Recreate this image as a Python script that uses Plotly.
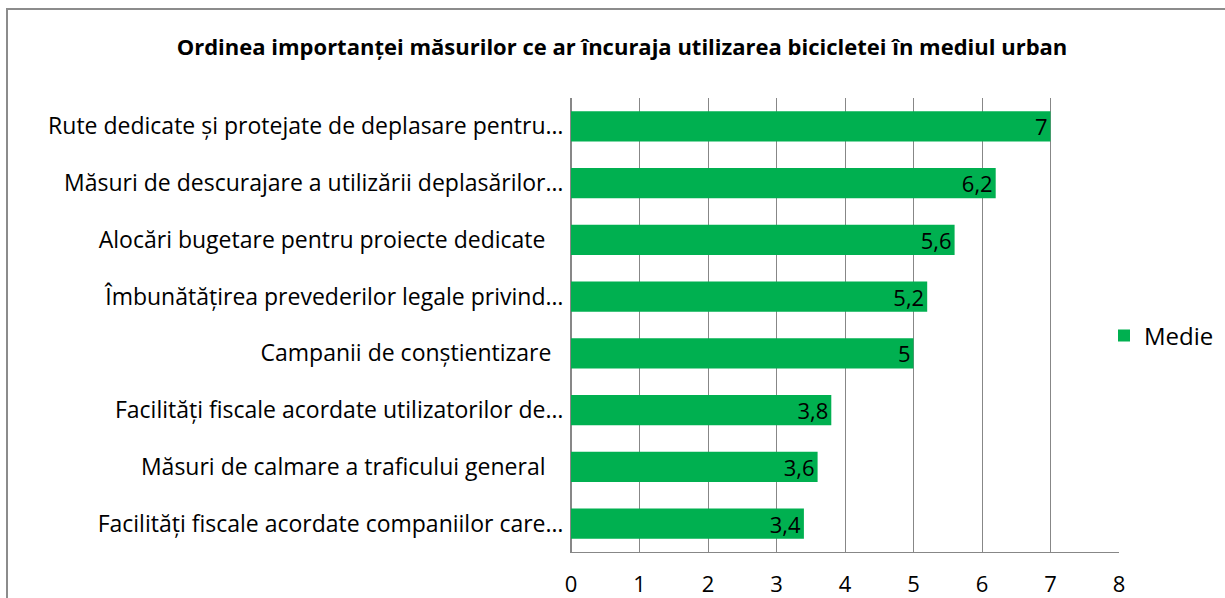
import plotly.graph_objects as go

categories = [
    "Rute dedicate și protejate de deplasare pentru…",
    "Măsuri de descurajare a utilizării deplasărilor…",
    "Alocări bugetare pentru proiecte dedicate\u00a0\u00a0\u00a0",
    "Îmbunătățirea prevederilor legale privind…",
    "Campanii de conștientizare\u00a0\u00a0",
    "Facilități fiscale acordate utilizatorilor de…",
    "Măsuri de calmare a traficului general\u00a0\u00a0\u00a0",
    "Facilități fiscale acordate companiilor care…",
]
values = [7, 6.2, 5.6, 5.2, 5, 3.8, 3.6, 3.4]
series_name = "Medie"
title = "Ordinea importanței măsurilor ce ar încuraja utilizarea bicicletei în mediul urban"
x_ticks = [0, 1, 2, 3, 4, 5, 6, 7, 8]

FONT = "Open Sans, Noto Sans, sans-serif"
GREEN = "#00B050"
GRID = "#878787"

labels = [("%g" % v).replace(".", ",") for v in values]

fig = go.Figure()
fig.add_trace(go.Bar(
    y=categories, x=values, orientation="h", name=series_name,
    marker=dict(color=GREEN, line=dict(width=0)),
    text=labels, textposition="inside", insidetextanchor="end", textangle=0,
    textfont=dict(family=FONT, size=22, color="#000000"),
    constraintext="none", cliponaxis=False,
    showlegend=True,
))

W, H = 1225, 598
L, R, T, B = 571, 1119, 98, 552

fig.update_layout(
    width=W, height=H,
    margin=dict(l=L, r=W - R, t=T, b=H - B, pad=0, autoexpand=False),
    paper_bgcolor="white", plot_bgcolor="white",
    font=dict(family=FONT, color="#000000"),
    title=dict(text="<b>" + title + "</b>", x=(622) / W, xanchor="center",
               y=1 - 47 / H, yanchor="middle",
               font=dict(family=FONT, size=22, color="#000000")),
    bargap=0.47,
    showlegend=True,
    legend=dict(x=(1104 - L) / (R - L), xanchor="left",
                y=(B - 336) / (B - T), yanchor="middle",
                font=dict(family=FONT, size=24, color="#000000"),
                bgcolor="rgba(0,0,0,0)", itemwidth=30),
    xaxis=dict(range=[0, 8], tickvals=x_ticks, showgrid=True, gridcolor=GRID, gridwidth=1,
               zeroline=True, zerolinecolor=GRID, zerolinewidth=1,
               showline=True, linecolor=GRID, linewidth=1, automargin=False,
               ticks="", ticklen=0, ticklabelstandoff=13,
               tickfont=dict(family=FONT, size=22, color="#000000")),
    yaxis=dict(categoryorder="array", categoryarray=categories[::-1],
               showline=True, linecolor=GRID, linewidth=1, showgrid=False, automargin=False,
               ticks="", ticklen=0, ticklabelstandoff=2,
               tickfont=dict(family=FONT, size=23, color="#000000")),
)

# outer chart border (extends past the right and bottom edges)
fig.add_shape(type="rect", xref="paper", yref="paper",
              x0=(7 - L) / (R - L), x1=(1240 - L) / (R - L),
              y0=(B - 620) / (B - T), y1=(B - 9) / (B - T),
              line=dict(color="#8c8c8c", width=2), fillcolor="rgba(0,0,0,0)", layer="below")

fig.write_html("out.html", config={"displayModeBar": False},
               post_script="document.body.style.margin='0';")
